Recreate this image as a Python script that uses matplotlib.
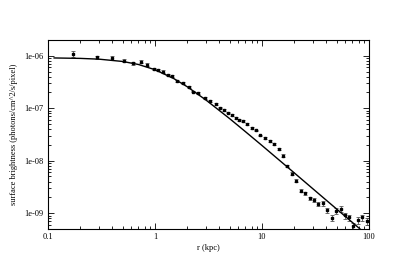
import matplotlib
matplotlib.use("Agg")
import matplotlib.pyplot as plt
from matplotlib.ticker import LogLocator, FixedLocator, FixedFormatter, NullFormatter

# -----------------------------
# Данные
# -----------------------------

r_kpc = [0.171, 0.287, 0.396, 0.513, 0.626, 0.740, 0.851, 0.984, 1.07, 1.20,
         1.33, 1.45, 1.61, 1.81, 2.06, 2.29, 2.54, 2.93, 3.27, 3.69,
         4.05, 4.44, 4.84, 5.28, 5.70, 6.14, 6.71, 7.31, 8.04, 8.79,
         9.58, 10.7, 11.9, 13.0, 14.4, 15.7, 17.2, 19.0, 20.8, 23.0,
         25.2, 28.1, 30.6, 33.6, 36.9, 40.7, 44.8, 49.2, 54.4, 59.7,
         64.6, 71.3, 79.4, 86.5, 95.3]

sb = [1.09e-6, 9.27e-7, 9.04e-7, 8.12e-7, 7.24e-7, 7.77e-7, 6.80e-7, 5.62e-7, 5.38e-7, 4.99e-7,
      4.37e-7, 4.07e-7, 3.31e-7, 3.03e-7, 2.57e-7, 2.08e-7, 1.94e-7, 1.54e-7, 1.38e-7, 1.19e-7,
      1.03e-7, 9.16e-8, 8.27e-8, 7.33e-8, 6.62e-8, 5.88e-8, 5.62e-8, 4.99e-8, 4.18e-8, 3.77e-8,
      3.03e-8, 2.69e-8, 2.39e-8, 2.06e-8, 1.68e-8, 1.25e-8, 8.02e-9, 5.62e-9, 4.18e-9, 2.69e-9,
      2.39e-9, 1.92e-9, 1.78e-9, 1.49e-9, 1.54e-9, 1.14e-9, 8.13e-10, 1.11e-9, 1.21e-9, 9.04e-10,
      8.27e-10, 5.62e-10, 7.33e-10, 8.27e-10, 7.11e-10]

# относительные ошибки
sb_err_frac = [0.12, 0.08, 0.08, 0.07, 0.07, 0.07, 0.07, 0.06, 0.05, 0.05,
               0.04, 0.04, 0.04, 0.04, 0.04, 0.04, 0.04, 0.04, 0.04, 0.04,
               0.04, 0.04, 0.04, 0.04, 0.04, 0.04, 0.04, 0.04, 0.04, 0.04,
               0.04, 0.04, 0.04, 0.04, 0.05, 0.05, 0.05, 0.06, 0.06, 0.07,
               0.07, 0.08, 0.08, 0.09, 0.10, 0.11, 0.12, 0.12, 0.12, 0.13,
               0.13, 0.14, 0.14, 0.14, 0.15]

# модель (бета-профиль), точки кривой
model_r = [0.114, 0.2, 0.3, 0.5, 0.7, 1.0, 1.5, 2.0, 3.0, 5.0, 7.0, 10.0, 20.0, 40.0, 70.0, 100.0]
model_sb = [9.08e-7, 8.91e-7, 8.61e-7, 7.78e-7, 6.82e-7, 5.42e-7, 3.67e-7, 2.57e-7, 1.43e-7,
            6.31e-8, 3.58e-8, 1.95e-8, 5.88e-9, 1.76e-9, 6.66e-10, 3.58e-10]

x_ticks = [0.1, 1, 10, 100]
x_tick_labels = ["0.1", "1", "10", "100"]
y_ticks = [1e-9, 1e-8, 1e-7, 1e-6]
y_tick_labels = ["1e-09", "1e-08", "1e-07", "1e-06"]

# -----------------------------
# График
# -----------------------------

plt.rcParams["font.family"] = ["Liberation Serif", "DejaVu Serif"]

fig = plt.figure(figsize=(4.15, 2.70), dpi=100)
ax = fig.add_axes([0.1157, 0.152, 0.7733, 0.700])

yerr = [v * e for v, e in zip(sb, sb_err_frac)]
ax.errorbar(r_kpc, sb, yerr=yerr, fmt="s", color="black", ms=2.0,
            elinewidth=0.6, capsize=1.6, capthick=0.6, ecolor="#555555")
ax.plot(model_r, model_sb, color="black", lw=1.0)

ax.set_xscale("log")
ax.set_yscale("log")
ax.set_xlim(0.1, 100)
ax.set_ylim(5e-10, 2e-6)

ax.xaxis.set_major_locator(FixedLocator(x_ticks))
ax.xaxis.set_major_formatter(FixedFormatter(x_tick_labels))
ax.xaxis.set_minor_locator(LogLocator(base=10, subs=range(2, 10)))
ax.xaxis.set_minor_formatter(NullFormatter())
ax.yaxis.set_major_locator(FixedLocator(y_ticks))
ax.yaxis.set_major_formatter(FixedFormatter(y_tick_labels))
ax.yaxis.set_minor_locator(LogLocator(base=10, subs=range(2, 10)))
ax.yaxis.set_minor_formatter(NullFormatter())

ax.tick_params(which="both", direction="in", top=True, right=True, labelsize=6, width=0.6)
ax.tick_params(which="major", length=4)
ax.tick_params(which="minor", length=2)
ax.tick_params(axis="x", pad=3)

for s in ax.spines.values():
    s.set_linewidth(0.8)

ax.set_xlabel("r (kpc)", fontsize=6, labelpad=2)
ax.set_ylabel("surface brightness (photons/cm^2/s/pixel)", fontsize=6, labelpad=4)

plt.savefig("out.png", dpi=100)
plt.close()
